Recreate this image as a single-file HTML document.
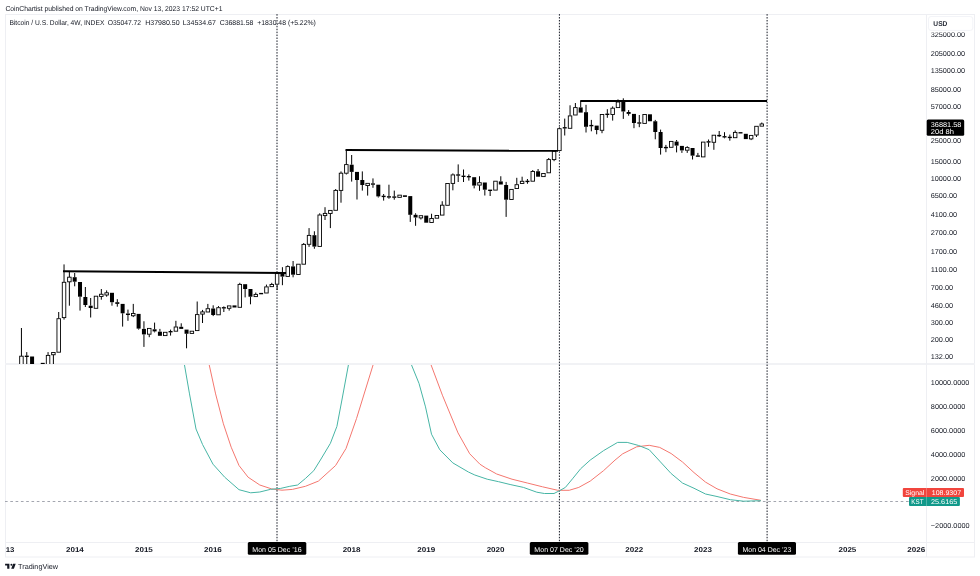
<!DOCTYPE html>
<html><head><meta charset="utf-8"><style>
html,body{margin:0;padding:0;background:#fff;width:980px;height:576px;overflow:hidden}
svg{display:block;font-family:"Liberation Sans", sans-serif;will-change:transform;text-rendering:geometricPrecision}
</style></head><body>
<svg width="980" height="576" viewBox="0 0 980 576">
<rect x="5.5" y="14.5" width="969" height="542.5" fill="none" stroke="#eeeff3" stroke-width="1"/>
<line x1="5" y1="364" x2="975" y2="364" stroke="#f1f2f5" stroke-width="2"/>
<line x1="926.5" y1="14" x2="926.5" y2="557" stroke="#eeeff3"/>
<line x1="5" y1="542.5" x2="975" y2="542.5" stroke="#eeeff3"/>
<text x="5.40" y="11.00" font-size="7.1" font-weight="normal" fill="#131722" textLength="217.05" lengthAdjust="spacingAndGlyphs">CoinChartist published on TradingView.com, Nov 13, 2023 17:52 UTC+1</text>
<text x="9.45" y="25.10" font-size="7.1" font-weight="normal" fill="#131722" textLength="94.90" lengthAdjust="spacingAndGlyphs">Bitcoin / U.S. Dollar, 4W, INDEX</text>
<text x="107.65" y="25.10" font-size="7.1" font-weight="normal" fill="#131722" textLength="33.40" lengthAdjust="spacingAndGlyphs">O35047.72</text>
<text x="145.15" y="25.10" font-size="7.1" font-weight="normal" fill="#131722" textLength="34.50" lengthAdjust="spacingAndGlyphs">H37980.50</text>
<text x="182.65" y="25.10" font-size="7.1" font-weight="normal" fill="#131722" textLength="33.30" lengthAdjust="spacingAndGlyphs">L34534.67</text>
<text x="219.65" y="25.10" font-size="7.1" font-weight="normal" fill="#131722" textLength="33.80" lengthAdjust="spacingAndGlyphs">C36881.58</text>
<text x="257.25" y="25.10" font-size="7.1" font-weight="normal" fill="#131722" textLength="58.60" lengthAdjust="spacingAndGlyphs">+1830.48 (+5.22%)</text>
<text x="930.65" y="36.85" font-size="7.1" font-weight="normal" fill="#131722" textLength="34.50" lengthAdjust="spacingAndGlyphs">325000.00</text>
<text x="930.65" y="55.65" font-size="7.1" font-weight="normal" fill="#131722" textLength="34.50" lengthAdjust="spacingAndGlyphs">205000.00</text>
<text x="930.65" y="73.05" font-size="7.1" font-weight="normal" fill="#131722" textLength="34.50" lengthAdjust="spacingAndGlyphs">135000.00</text>
<text x="930.65" y="91.85" font-size="7.1" font-weight="normal" fill="#131722" textLength="30.50" lengthAdjust="spacingAndGlyphs">85000.00</text>
<text x="930.65" y="108.65" font-size="7.1" font-weight="normal" fill="#131722" textLength="30.50" lengthAdjust="spacingAndGlyphs">57000.00</text>
<text x="930.65" y="142.75" font-size="7.1" font-weight="normal" fill="#131722" textLength="30.50" lengthAdjust="spacingAndGlyphs">25000.00</text>
<text x="930.65" y="163.85" font-size="7.1" font-weight="normal" fill="#131722" textLength="30.50" lengthAdjust="spacingAndGlyphs">15000.00</text>
<text x="930.65" y="180.95" font-size="7.1" font-weight="normal" fill="#131722" textLength="30.50" lengthAdjust="spacingAndGlyphs">10000.00</text>
<text x="930.65" y="198.45" font-size="7.1" font-weight="normal" fill="#131722" textLength="26.50" lengthAdjust="spacingAndGlyphs">6500.00</text>
<text x="930.65" y="217.45" font-size="7.1" font-weight="normal" fill="#131722" textLength="26.50" lengthAdjust="spacingAndGlyphs">4100.00</text>
<text x="930.65" y="234.55" font-size="7.1" font-weight="normal" fill="#131722" textLength="26.50" lengthAdjust="spacingAndGlyphs">2700.00</text>
<text x="930.65" y="253.85" font-size="7.1" font-weight="normal" fill="#131722" textLength="26.50" lengthAdjust="spacingAndGlyphs">1700.00</text>
<text x="930.65" y="271.75" font-size="7.1" font-weight="normal" fill="#131722" textLength="26.50" lengthAdjust="spacingAndGlyphs">1100.00</text>
<text x="930.65" y="290.45" font-size="7.1" font-weight="normal" fill="#131722" textLength="22.50" lengthAdjust="spacingAndGlyphs">700.00</text>
<text x="930.65" y="308.05" font-size="7.1" font-weight="normal" fill="#131722" textLength="22.50" lengthAdjust="spacingAndGlyphs">460.00</text>
<text x="930.65" y="325.25" font-size="7.1" font-weight="normal" fill="#131722" textLength="22.50" lengthAdjust="spacingAndGlyphs">300.00</text>
<text x="930.65" y="342.05" font-size="7.1" font-weight="normal" fill="#131722" textLength="22.50" lengthAdjust="spacingAndGlyphs">200.00</text>
<text x="930.65" y="358.95" font-size="7.1" font-weight="normal" fill="#131722" textLength="22.50" lengthAdjust="spacingAndGlyphs">132.00</text>
<text x="930.85" y="385.25" font-size="7.1" font-weight="normal" fill="#131722" textLength="38.50" lengthAdjust="spacingAndGlyphs">10000.0000</text>
<text x="930.85" y="409.15" font-size="7.1" font-weight="normal" fill="#131722" textLength="34.50" lengthAdjust="spacingAndGlyphs">8000.0000</text>
<text x="930.85" y="433.05" font-size="7.1" font-weight="normal" fill="#131722" textLength="34.50" lengthAdjust="spacingAndGlyphs">6000.0000</text>
<text x="930.85" y="456.85" font-size="7.1" font-weight="normal" fill="#131722" textLength="34.50" lengthAdjust="spacingAndGlyphs">4000.0000</text>
<text x="930.85" y="480.65" font-size="7.1" font-weight="normal" fill="#131722" textLength="34.50" lengthAdjust="spacingAndGlyphs">2000.0000</text>
<text x="930.85" y="528.15" font-size="7.1" font-weight="normal" fill="#131722" textLength="38.70" lengthAdjust="spacingAndGlyphs">−2000.0000</text>
<rect x="927" y="15" width="47" height="17.4" fill="#fff"/>
<rect x="928.5" y="16.5" width="44.3" height="13.9" rx="2.5" fill="#fff" stroke="#f3f4f8"/>
<text x="933.35" y="25.80" font-size="7.1" font-weight="bold" fill="#2a2e39" textLength="14.00" lengthAdjust="spacingAndGlyphs">USD</text>
<rect x="926.7" y="119.4" width="37.5" height="16.4" rx="1.5" fill="#000"/>
<text x="930.75" y="127.30" font-size="7.1" font-weight="normal" fill="#fff" textLength="30.60" lengthAdjust="spacingAndGlyphs">36881.58</text>
<text x="930.75" y="134.40" font-size="7.1" font-weight="normal" fill="#fff" textLength="23.10" lengthAdjust="spacingAndGlyphs">20d 8h</text>
<line x1="277.0" y1="14.13" x2="277.0" y2="542" stroke="#131722" stroke-width="1" stroke-dasharray="1.5,1.42"/>
<line x1="559.4" y1="14.13" x2="559.4" y2="542" stroke="#131722" stroke-width="1" stroke-dasharray="1.5,1.42"/>
<line x1="767.1" y1="14.13" x2="767.1" y2="542" stroke="#131722" stroke-width="1" stroke-dasharray="1.5,1.42"/>
<text x="5.75" y="551.90" font-size="7.1" font-weight="bold" fill="#131722" textLength="8.70" lengthAdjust="spacingAndGlyphs">13</text>
<text x="65.95" y="551.90" font-size="7.1" font-weight="bold" fill="#131722" textLength="17.90" lengthAdjust="spacingAndGlyphs">2014</text>
<text x="134.95" y="551.90" font-size="7.1" font-weight="bold" fill="#131722" textLength="17.90" lengthAdjust="spacingAndGlyphs">2015</text>
<text x="203.95" y="551.90" font-size="7.1" font-weight="bold" fill="#131722" textLength="17.90" lengthAdjust="spacingAndGlyphs">2016</text>
<text x="342.65" y="551.90" font-size="7.1" font-weight="bold" fill="#131722" textLength="17.90" lengthAdjust="spacingAndGlyphs">2018</text>
<text x="417.25" y="551.90" font-size="7.1" font-weight="bold" fill="#131722" textLength="17.90" lengthAdjust="spacingAndGlyphs">2019</text>
<text x="486.65" y="551.90" font-size="7.1" font-weight="bold" fill="#131722" textLength="17.90" lengthAdjust="spacingAndGlyphs">2020</text>
<text x="625.35" y="551.90" font-size="7.1" font-weight="bold" fill="#131722" textLength="17.90" lengthAdjust="spacingAndGlyphs">2022</text>
<text x="694.05" y="551.90" font-size="7.1" font-weight="bold" fill="#131722" textLength="17.90" lengthAdjust="spacingAndGlyphs">2023</text>
<text x="838.45" y="551.90" font-size="7.1" font-weight="bold" fill="#131722" textLength="17.90" lengthAdjust="spacingAndGlyphs">2025</text>
<text x="907.25" y="551.90" font-size="7.1" font-weight="bold" fill="#131722" textLength="17.90" lengthAdjust="spacingAndGlyphs">2026</text>
<rect x="247.8" y="542" width="58.50" height="12.7" rx="1.5" fill="#000"/>
<text x="252.35" y="551.90" font-size="7.1" font-weight="normal" fill="#fff" textLength="49.30" lengthAdjust="spacingAndGlyphs">Mon 05 Dec ’16</text>
<rect x="529.8" y="542" width="58.60" height="12.7" rx="1.5" fill="#000"/>
<text x="534.35" y="551.90" font-size="7.1" font-weight="normal" fill="#fff" textLength="49.40" lengthAdjust="spacingAndGlyphs">Mon 07 Dec ’20</text>
<rect x="737.9" y="542" width="58.10" height="12.7" rx="1.5" fill="#000"/>
<text x="742.45" y="551.90" font-size="7.1" font-weight="normal" fill="#fff" textLength="48.90" lengthAdjust="spacingAndGlyphs">Mon 04 Dec ’23</text>
<path d="M5.1 563.75 H9.4 V568.75 H7.2 V565.6 H5.1 Z M13.1 563.75 H15.7 L13.9 568.75 H11.2 Z" fill="#131722"/><circle cx="11.4" cy="564.7" r="0.95" fill="#131722"/>
<text x="18.05" y="569.00" font-size="7.3" font-weight="normal" fill="#131722" textLength="40.00" lengthAdjust="spacingAndGlyphs">TradingView</text>
<line x1="5" y1="501.5" x2="926" y2="501.5" stroke="#a3a6af" stroke-dasharray="2.65,2.65" stroke-width="1"/>
<defs><clipPath id="pp"><rect x="6" y="15" width="920" height="349"/></clipPath><clipPath id="ip"><rect x="6" y="365" width="920" height="177"/></clipPath></defs>
<g clip-path="url(#pp)">
<line x1="21.43" y1="328.00" x2="21.43" y2="356.00" stroke="#000" stroke-width="1"/>
<rect x="19.68" y="356.20" width="3.5" height="9.60" fill="#fff" stroke="#000" stroke-width="0.9"/>
<line x1="26.76" y1="352.10" x2="26.76" y2="355.80" stroke="#000" stroke-width="1"/>
<line x1="26.76" y1="356.80" x2="26.76" y2="366.00" stroke="#000" stroke-width="1"/>
<rect x="24.76" y="355.60" width="4" height="1.40" fill="#000"/>
<rect x="30.08" y="356.50" width="4" height="9.50" fill="#000"/>
<rect x="40.74" y="362.85" width="4" height="1.40" fill="#000"/>
<line x1="48.06" y1="352.10" x2="48.06" y2="355.20" stroke="#000" stroke-width="1"/>
<rect x="46.31" y="355.40" width="3.5" height="10.40" fill="#fff" stroke="#000" stroke-width="0.9"/>
<line x1="53.39" y1="354.70" x2="53.39" y2="366.00" stroke="#000" stroke-width="1"/>
<rect x="51.64" y="352.55" width="3.5" height="2.20" fill="#fff" stroke="#000" stroke-width="0.9"/>
<line x1="58.71" y1="312.00" x2="58.71" y2="318.50" stroke="#000" stroke-width="1"/>
<rect x="56.96" y="318.70" width="3.5" height="33.50" fill="#fff" stroke="#000" stroke-width="0.9"/>
<line x1="64.04" y1="264.40" x2="64.04" y2="282.10" stroke="#000" stroke-width="1"/>
<line x1="64.04" y1="317.80" x2="64.04" y2="319.60" stroke="#000" stroke-width="1"/>
<rect x="62.29" y="282.30" width="3.5" height="35.30" fill="#fff" stroke="#000" stroke-width="0.9"/>
<line x1="69.37" y1="271.70" x2="69.37" y2="277.00" stroke="#000" stroke-width="1"/>
<line x1="69.37" y1="282.00" x2="69.37" y2="305.70" stroke="#000" stroke-width="1"/>
<rect x="67.62" y="277.20" width="3.5" height="4.60" fill="#fff" stroke="#000" stroke-width="0.9"/>
<line x1="74.69" y1="273.00" x2="74.69" y2="277.20" stroke="#000" stroke-width="1"/>
<line x1="74.69" y1="281.70" x2="74.69" y2="286.30" stroke="#000" stroke-width="1"/>
<rect x="72.69" y="277.20" width="4" height="4.50" fill="#000"/>
<line x1="80.02" y1="296.70" x2="80.02" y2="310.60" stroke="#000" stroke-width="1"/>
<rect x="78.02" y="282.00" width="4" height="14.70" fill="#000"/>
<line x1="85.35" y1="287.00" x2="85.35" y2="297.00" stroke="#000" stroke-width="1"/>
<line x1="85.35" y1="305.00" x2="85.35" y2="307.00" stroke="#000" stroke-width="1"/>
<rect x="83.35" y="297.00" width="4" height="8.00" fill="#000"/>
<line x1="90.67" y1="298.00" x2="90.67" y2="305.70" stroke="#000" stroke-width="1"/>
<line x1="90.67" y1="308.00" x2="90.67" y2="317.50" stroke="#000" stroke-width="1"/>
<rect x="88.67" y="305.70" width="4" height="2.30" fill="#000"/>
<rect x="94.25" y="296.20" width="3.5" height="12.10" fill="#fff" stroke="#000" stroke-width="0.9"/>
<line x1="101.33" y1="289.00" x2="101.33" y2="294.30" stroke="#000" stroke-width="1"/>
<line x1="101.33" y1="296.40" x2="101.33" y2="299.70" stroke="#000" stroke-width="1"/>
<rect x="99.58" y="294.25" width="3.5" height="2.20" fill="#fff" stroke="#000" stroke-width="0.9"/>
<line x1="106.65" y1="290.40" x2="106.65" y2="293.20" stroke="#000" stroke-width="1"/>
<line x1="106.65" y1="294.60" x2="106.65" y2="296.70" stroke="#000" stroke-width="1"/>
<rect x="104.90" y="292.80" width="3.5" height="2.20" fill="#fff" stroke="#000" stroke-width="0.9"/>
<line x1="111.98" y1="302.20" x2="111.98" y2="305.70" stroke="#000" stroke-width="1"/>
<rect x="109.98" y="292.80" width="4" height="9.40" fill="#000"/>
<line x1="117.31" y1="299.20" x2="117.31" y2="302.20" stroke="#000" stroke-width="1"/>
<line x1="117.31" y1="303.90" x2="117.31" y2="306.70" stroke="#000" stroke-width="1"/>
<rect x="115.31" y="302.20" width="4" height="1.70" fill="#000"/>
<line x1="122.63" y1="313.30" x2="122.63" y2="326.60" stroke="#000" stroke-width="1"/>
<rect x="120.63" y="303.90" width="4" height="9.40" fill="#000"/>
<line x1="127.96" y1="309.60" x2="127.96" y2="313.50" stroke="#000" stroke-width="1"/>
<line x1="127.96" y1="315.00" x2="127.96" y2="320.80" stroke="#000" stroke-width="1"/>
<rect x="125.96" y="313.50" width="4" height="1.50" fill="#000"/>
<line x1="133.28" y1="303.90" x2="133.28" y2="313.60" stroke="#000" stroke-width="1"/>
<line x1="133.28" y1="315.70" x2="133.28" y2="317.10" stroke="#000" stroke-width="1"/>
<rect x="131.53" y="313.55" width="3.5" height="2.20" fill="#fff" stroke="#000" stroke-width="0.9"/>
<line x1="138.61" y1="328.60" x2="138.61" y2="329.60" stroke="#000" stroke-width="1"/>
<rect x="136.61" y="313.90" width="4" height="14.70" fill="#000"/>
<line x1="143.94" y1="321.25" x2="143.94" y2="328.90" stroke="#000" stroke-width="1"/>
<line x1="143.94" y1="334.40" x2="143.94" y2="346.90" stroke="#000" stroke-width="1"/>
<rect x="141.94" y="328.90" width="4" height="5.50" fill="#000"/>
<line x1="149.26" y1="334.40" x2="149.26" y2="337.20" stroke="#000" stroke-width="1"/>
<rect x="147.51" y="328.40" width="3.5" height="5.80" fill="#fff" stroke="#000" stroke-width="0.9"/>
<line x1="154.59" y1="322.60" x2="154.59" y2="329.30" stroke="#000" stroke-width="1"/>
<line x1="154.59" y1="331.40" x2="154.59" y2="332.40" stroke="#000" stroke-width="1"/>
<rect x="152.59" y="329.30" width="4" height="2.10" fill="#000"/>
<line x1="159.92" y1="328.90" x2="159.92" y2="331.70" stroke="#000" stroke-width="1"/>
<rect x="157.92" y="331.70" width="4" height="4.10" fill="#000"/>
<rect x="163.49" y="332.30" width="3.5" height="3.30" fill="#fff" stroke="#000" stroke-width="0.9"/>
<line x1="170.57" y1="329.60" x2="170.57" y2="331.20" stroke="#000" stroke-width="1"/>
<line x1="170.57" y1="332.20" x2="170.57" y2="335.60" stroke="#000" stroke-width="1"/>
<rect x="168.57" y="331.00" width="4" height="1.40" fill="#000"/>
<line x1="175.90" y1="320.80" x2="175.90" y2="326.80" stroke="#000" stroke-width="1"/>
<rect x="174.15" y="327.00" width="3.5" height="4.20" fill="#fff" stroke="#000" stroke-width="0.9"/>
<line x1="181.22" y1="323.30" x2="181.22" y2="326.80" stroke="#000" stroke-width="1"/>
<rect x="179.22" y="326.80" width="4" height="2.10" fill="#000"/>
<line x1="186.55" y1="333.75" x2="186.55" y2="348.30" stroke="#000" stroke-width="1"/>
<rect x="184.55" y="329.60" width="4" height="4.15" fill="#000"/>
<rect x="190.12" y="331.20" width="3.5" height="2.20" fill="#fff" stroke="#000" stroke-width="0.9"/>
<line x1="197.20" y1="301.50" x2="197.20" y2="314.40" stroke="#000" stroke-width="1"/>
<rect x="195.45" y="314.60" width="3.5" height="16.00" fill="#fff" stroke="#000" stroke-width="0.9"/>
<line x1="202.53" y1="309.90" x2="202.53" y2="312.00" stroke="#000" stroke-width="1"/>
<line x1="202.53" y1="314.00" x2="202.53" y2="323.00" stroke="#000" stroke-width="1"/>
<rect x="200.78" y="311.90" width="3.5" height="2.20" fill="#fff" stroke="#000" stroke-width="0.9"/>
<line x1="207.85" y1="303.90" x2="207.85" y2="308.50" stroke="#000" stroke-width="1"/>
<rect x="206.10" y="308.70" width="3.5" height="3.30" fill="#fff" stroke="#000" stroke-width="0.9"/>
<line x1="213.18" y1="305.30" x2="213.18" y2="308.50" stroke="#000" stroke-width="1"/>
<line x1="213.18" y1="315.00" x2="213.18" y2="316.10" stroke="#000" stroke-width="1"/>
<rect x="211.18" y="308.50" width="4" height="6.50" fill="#000"/>
<line x1="218.51" y1="306.10" x2="218.51" y2="307.50" stroke="#000" stroke-width="1"/>
<rect x="216.76" y="307.70" width="3.5" height="7.10" fill="#fff" stroke="#000" stroke-width="0.9"/>
<line x1="223.83" y1="306.40" x2="223.83" y2="307.30" stroke="#000" stroke-width="1"/>
<line x1="223.83" y1="308.30" x2="223.83" y2="312.00" stroke="#000" stroke-width="1"/>
<rect x="221.83" y="307.10" width="4" height="1.40" fill="#000"/>
<line x1="229.16" y1="308.50" x2="229.16" y2="310.60" stroke="#000" stroke-width="1"/>
<rect x="227.41" y="305.90" width="3.5" height="2.40" fill="#fff" stroke="#000" stroke-width="0.9"/>
<rect x="232.49" y="305.40" width="4" height="2.10" fill="#000"/>
<line x1="239.81" y1="282.80" x2="239.81" y2="284.20" stroke="#000" stroke-width="1"/>
<rect x="238.06" y="284.40" width="3.5" height="22.90" fill="#fff" stroke="#000" stroke-width="0.9"/>
<line x1="245.14" y1="289.00" x2="245.14" y2="297.40" stroke="#000" stroke-width="1"/>
<rect x="243.14" y="284.20" width="4" height="4.80" fill="#000"/>
<line x1="250.47" y1="296.70" x2="250.47" y2="304.30" stroke="#000" stroke-width="1"/>
<rect x="248.47" y="289.00" width="4" height="7.70" fill="#000"/>
<line x1="255.79" y1="292.50" x2="255.79" y2="294.30" stroke="#000" stroke-width="1"/>
<rect x="254.04" y="294.40" width="3.5" height="2.20" fill="#fff" stroke="#000" stroke-width="0.9"/>
<rect x="259.12" y="292.90" width="4" height="1.40" fill="#000"/>
<line x1="266.44" y1="284.60" x2="266.44" y2="286.70" stroke="#000" stroke-width="1"/>
<rect x="264.69" y="286.90" width="3.5" height="6.10" fill="#fff" stroke="#000" stroke-width="0.9"/>
<line x1="271.77" y1="282.80" x2="271.77" y2="284.40" stroke="#000" stroke-width="1"/>
<rect x="270.02" y="284.45" width="3.5" height="2.20" fill="#fff" stroke="#000" stroke-width="0.9"/>
<line x1="277.10" y1="284.40" x2="277.10" y2="290.00" stroke="#000" stroke-width="1"/>
<rect x="275.35" y="273.60" width="3.5" height="10.60" fill="#fff" stroke="#000" stroke-width="0.9"/>
<line x1="282.42" y1="267.20" x2="282.42" y2="272.70" stroke="#000" stroke-width="1"/>
<line x1="282.42" y1="276.60" x2="282.42" y2="285.20" stroke="#000" stroke-width="1"/>
<rect x="280.42" y="272.70" width="4" height="3.90" fill="#000"/>
<line x1="287.75" y1="265.30" x2="287.75" y2="266.40" stroke="#000" stroke-width="1"/>
<rect x="286.00" y="266.60" width="3.5" height="9.80" fill="#fff" stroke="#000" stroke-width="0.9"/>
<line x1="293.08" y1="261.00" x2="293.08" y2="266.40" stroke="#000" stroke-width="1"/>
<line x1="293.08" y1="274.70" x2="293.08" y2="277.30" stroke="#000" stroke-width="1"/>
<rect x="291.08" y="266.40" width="4" height="8.30" fill="#000"/>
<rect x="296.65" y="264.20" width="3.5" height="10.30" fill="#fff" stroke="#000" stroke-width="0.9"/>
<line x1="303.73" y1="243.00" x2="303.73" y2="244.20" stroke="#000" stroke-width="1"/>
<rect x="301.98" y="244.40" width="3.5" height="19.80" fill="#fff" stroke="#000" stroke-width="0.9"/>
<line x1="309.06" y1="228.10" x2="309.06" y2="235.20" stroke="#000" stroke-width="1"/>
<line x1="309.06" y1="244.50" x2="309.06" y2="246.90" stroke="#000" stroke-width="1"/>
<rect x="307.31" y="235.40" width="3.5" height="8.90" fill="#fff" stroke="#000" stroke-width="0.9"/>
<line x1="314.38" y1="231.25" x2="314.38" y2="235.20" stroke="#000" stroke-width="1"/>
<line x1="314.38" y1="246.60" x2="314.38" y2="248.75" stroke="#000" stroke-width="1"/>
<rect x="312.38" y="235.20" width="4" height="11.40" fill="#000"/>
<line x1="319.71" y1="213.30" x2="319.71" y2="214.80" stroke="#000" stroke-width="1"/>
<rect x="317.96" y="215.00" width="3.5" height="31.40" fill="#fff" stroke="#000" stroke-width="0.9"/>
<line x1="325.03" y1="207.20" x2="325.03" y2="213.40" stroke="#000" stroke-width="1"/>
<line x1="325.03" y1="215.60" x2="325.03" y2="220.00" stroke="#000" stroke-width="1"/>
<rect x="323.28" y="213.40" width="3.5" height="2.20" fill="#fff" stroke="#000" stroke-width="0.9"/>
<line x1="330.36" y1="213.70" x2="330.36" y2="228.10" stroke="#000" stroke-width="1"/>
<rect x="328.61" y="210.40" width="3.5" height="3.10" fill="#fff" stroke="#000" stroke-width="0.9"/>
<line x1="335.69" y1="189.00" x2="335.69" y2="190.20" stroke="#000" stroke-width="1"/>
<rect x="333.94" y="190.40" width="3.5" height="19.90" fill="#fff" stroke="#000" stroke-width="0.9"/>
<line x1="341.01" y1="171.40" x2="341.01" y2="173.00" stroke="#000" stroke-width="1"/>
<line x1="341.01" y1="190.60" x2="341.01" y2="202.70" stroke="#000" stroke-width="1"/>
<rect x="339.26" y="173.20" width="3.5" height="17.20" fill="#fff" stroke="#000" stroke-width="0.9"/>
<line x1="346.34" y1="150.00" x2="346.34" y2="164.40" stroke="#000" stroke-width="1"/>
<line x1="346.34" y1="173.40" x2="346.34" y2="174.50" stroke="#000" stroke-width="1"/>
<rect x="344.59" y="164.60" width="3.5" height="8.60" fill="#fff" stroke="#000" stroke-width="0.9"/>
<line x1="351.67" y1="155.00" x2="351.67" y2="164.70" stroke="#000" stroke-width="1"/>
<line x1="351.67" y1="171.90" x2="351.67" y2="181.60" stroke="#000" stroke-width="1"/>
<rect x="349.67" y="164.70" width="4" height="7.20" fill="#000"/>
<line x1="356.99" y1="180.00" x2="356.99" y2="199.50" stroke="#000" stroke-width="1"/>
<rect x="354.99" y="171.90" width="4" height="8.10" fill="#000"/>
<line x1="362.32" y1="171.40" x2="362.32" y2="180.00" stroke="#000" stroke-width="1"/>
<line x1="362.32" y1="185.00" x2="362.32" y2="190.60" stroke="#000" stroke-width="1"/>
<rect x="360.32" y="180.00" width="4" height="5.00" fill="#000"/>
<line x1="367.65" y1="185.50" x2="367.65" y2="195.60" stroke="#000" stroke-width="1"/>
<rect x="365.90" y="183.35" width="3.5" height="2.20" fill="#fff" stroke="#000" stroke-width="0.9"/>
<line x1="372.97" y1="178.40" x2="372.97" y2="183.40" stroke="#000" stroke-width="1"/>
<line x1="372.97" y1="184.70" x2="372.97" y2="187.80" stroke="#000" stroke-width="1"/>
<rect x="370.97" y="183.35" width="4" height="1.40" fill="#000"/>
<line x1="378.30" y1="196.40" x2="378.30" y2="197.50" stroke="#000" stroke-width="1"/>
<rect x="376.30" y="184.70" width="4" height="11.70" fill="#000"/>
<line x1="383.63" y1="194.00" x2="383.63" y2="195.90" stroke="#000" stroke-width="1"/>
<line x1="383.63" y1="196.90" x2="383.63" y2="200.60" stroke="#000" stroke-width="1"/>
<rect x="381.63" y="195.70" width="4" height="1.40" fill="#000"/>
<line x1="388.95" y1="184.70" x2="388.95" y2="196.40" stroke="#000" stroke-width="1"/>
<line x1="388.95" y1="197.40" x2="388.95" y2="198.75" stroke="#000" stroke-width="1"/>
<rect x="386.95" y="196.20" width="4" height="1.40" fill="#000"/>
<line x1="394.28" y1="190.60" x2="394.28" y2="196.60" stroke="#000" stroke-width="1"/>
<line x1="394.28" y1="197.60" x2="394.28" y2="199.70" stroke="#000" stroke-width="1"/>
<rect x="392.28" y="196.40" width="4" height="1.40" fill="#000"/>
<rect x="397.85" y="195.15" width="3.5" height="2.20" fill="#fff" stroke="#000" stroke-width="0.9"/>
<rect x="402.93" y="195.30" width="4" height="1.60" fill="#000"/>
<line x1="410.26" y1="214.80" x2="410.26" y2="221.90" stroke="#000" stroke-width="1"/>
<rect x="408.26" y="196.10" width="4" height="18.70" fill="#000"/>
<line x1="415.58" y1="213.30" x2="415.58" y2="214.80" stroke="#000" stroke-width="1"/>
<line x1="415.58" y1="217.50" x2="415.58" y2="225.80" stroke="#000" stroke-width="1"/>
<rect x="413.58" y="214.80" width="4" height="2.70" fill="#000"/>
<line x1="420.91" y1="218.00" x2="420.91" y2="219.50" stroke="#000" stroke-width="1"/>
<rect x="419.16" y="215.70" width="3.5" height="2.20" fill="#fff" stroke="#000" stroke-width="0.9"/>
<rect x="424.24" y="215.60" width="4" height="7.10" fill="#000"/>
<line x1="431.56" y1="213.75" x2="431.56" y2="218.30" stroke="#000" stroke-width="1"/>
<rect x="429.81" y="218.50" width="3.5" height="4.00" fill="#fff" stroke="#000" stroke-width="0.9"/>
<rect x="435.14" y="215.50" width="3.5" height="2.70" fill="#fff" stroke="#000" stroke-width="0.9"/>
<line x1="442.22" y1="201.25" x2="442.22" y2="205.00" stroke="#000" stroke-width="1"/>
<rect x="440.47" y="205.20" width="3.5" height="9.90" fill="#fff" stroke="#000" stroke-width="0.9"/>
<rect x="445.79" y="183.50" width="3.5" height="21.80" fill="#fff" stroke="#000" stroke-width="0.9"/>
<line x1="452.87" y1="173.40" x2="452.87" y2="174.70" stroke="#000" stroke-width="1"/>
<line x1="452.87" y1="183.60" x2="452.87" y2="190.30" stroke="#000" stroke-width="1"/>
<rect x="451.12" y="174.90" width="3.5" height="8.50" fill="#fff" stroke="#000" stroke-width="0.9"/>
<line x1="458.19" y1="164.40" x2="458.19" y2="174.50" stroke="#000" stroke-width="1"/>
<line x1="458.19" y1="175.50" x2="458.19" y2="182.00" stroke="#000" stroke-width="1"/>
<rect x="456.19" y="174.30" width="4" height="1.40" fill="#000"/>
<line x1="463.52" y1="169.50" x2="463.52" y2="175.80" stroke="#000" stroke-width="1"/>
<line x1="463.52" y1="176.80" x2="463.52" y2="182.00" stroke="#000" stroke-width="1"/>
<rect x="461.52" y="175.60" width="4" height="1.40" fill="#000"/>
<line x1="468.85" y1="174.40" x2="468.85" y2="176.20" stroke="#000" stroke-width="1"/>
<line x1="468.85" y1="177.20" x2="468.85" y2="180.60" stroke="#000" stroke-width="1"/>
<rect x="466.85" y="176.00" width="4" height="1.40" fill="#000"/>
<line x1="474.17" y1="185.60" x2="474.17" y2="188.40" stroke="#000" stroke-width="1"/>
<rect x="472.17" y="177.20" width="4" height="8.40" fill="#000"/>
<line x1="479.50" y1="176.25" x2="479.50" y2="182.50" stroke="#000" stroke-width="1"/>
<line x1="479.50" y1="185.30" x2="479.50" y2="190.80" stroke="#000" stroke-width="1"/>
<rect x="477.75" y="182.70" width="3.5" height="2.40" fill="#fff" stroke="#000" stroke-width="0.9"/>
<line x1="484.83" y1="189.70" x2="484.83" y2="195.50" stroke="#000" stroke-width="1"/>
<rect x="482.83" y="182.50" width="4" height="7.20" fill="#000"/>
<line x1="490.15" y1="190.80" x2="490.15" y2="196.00" stroke="#000" stroke-width="1"/>
<rect x="488.15" y="189.60" width="4" height="1.40" fill="#000"/>
<rect x="493.73" y="181.20" width="3.5" height="8.90" fill="#fff" stroke="#000" stroke-width="0.9"/>
<line x1="500.81" y1="176.25" x2="500.81" y2="181.40" stroke="#000" stroke-width="1"/>
<rect x="498.81" y="181.40" width="4" height="3.10" fill="#000"/>
<line x1="506.13" y1="181.90" x2="506.13" y2="185.00" stroke="#000" stroke-width="1"/>
<line x1="506.13" y1="199.70" x2="506.13" y2="216.90" stroke="#000" stroke-width="1"/>
<rect x="504.13" y="185.00" width="4" height="14.70" fill="#000"/>
<rect x="509.71" y="189.40" width="3.5" height="10.10" fill="#fff" stroke="#000" stroke-width="0.9"/>
<line x1="516.79" y1="177.80" x2="516.79" y2="184.50" stroke="#000" stroke-width="1"/>
<rect x="515.04" y="184.70" width="3.5" height="3.85" fill="#fff" stroke="#000" stroke-width="0.9"/>
<line x1="522.11" y1="176.70" x2="522.11" y2="181.40" stroke="#000" stroke-width="1"/>
<rect x="520.36" y="181.30" width="3.5" height="2.20" fill="#fff" stroke="#000" stroke-width="0.9"/>
<line x1="527.44" y1="179.00" x2="527.44" y2="180.90" stroke="#000" stroke-width="1"/>
<line x1="527.44" y1="181.90" x2="527.44" y2="183.75" stroke="#000" stroke-width="1"/>
<rect x="525.44" y="180.70" width="4" height="1.40" fill="#000"/>
<line x1="532.76" y1="170.00" x2="532.76" y2="171.25" stroke="#000" stroke-width="1"/>
<rect x="531.01" y="171.45" width="3.5" height="9.75" fill="#fff" stroke="#000" stroke-width="0.9"/>
<line x1="538.09" y1="169.00" x2="538.09" y2="171.25" stroke="#000" stroke-width="1"/>
<rect x="536.09" y="171.25" width="4" height="5.45" fill="#000"/>
<rect x="541.67" y="173.50" width="3.5" height="3.10" fill="#fff" stroke="#000" stroke-width="0.9"/>
<line x1="548.74" y1="158.00" x2="548.74" y2="159.40" stroke="#000" stroke-width="1"/>
<rect x="546.99" y="159.60" width="3.5" height="13.20" fill="#fff" stroke="#000" stroke-width="0.9"/>
<line x1="554.07" y1="159.80" x2="554.07" y2="161.20" stroke="#000" stroke-width="1"/>
<rect x="552.32" y="151.30" width="3.5" height="8.30" fill="#fff" stroke="#000" stroke-width="0.9"/>
<line x1="559.40" y1="127.30" x2="559.40" y2="128.50" stroke="#000" stroke-width="1"/>
<rect x="557.65" y="128.70" width="3.5" height="21.90" fill="#fff" stroke="#000" stroke-width="0.9"/>
<line x1="564.72" y1="118.60" x2="564.72" y2="127.30" stroke="#000" stroke-width="1"/>
<line x1="564.72" y1="128.30" x2="564.72" y2="135.50" stroke="#000" stroke-width="1"/>
<rect x="562.72" y="127.10" width="4" height="1.40" fill="#000"/>
<line x1="570.05" y1="105.30" x2="570.05" y2="115.70" stroke="#000" stroke-width="1"/>
<rect x="568.30" y="115.90" width="3.5" height="12.40" fill="#fff" stroke="#000" stroke-width="0.9"/>
<line x1="575.38" y1="103.00" x2="575.38" y2="107.40" stroke="#000" stroke-width="1"/>
<rect x="573.63" y="107.60" width="3.5" height="7.40" fill="#fff" stroke="#000" stroke-width="0.9"/>
<line x1="580.70" y1="100.80" x2="580.70" y2="107.40" stroke="#000" stroke-width="1"/>
<rect x="578.70" y="107.40" width="4" height="5.20" fill="#000"/>
<line x1="586.03" y1="104.80" x2="586.03" y2="112.20" stroke="#000" stroke-width="1"/>
<line x1="586.03" y1="126.80" x2="586.03" y2="132.50" stroke="#000" stroke-width="1"/>
<rect x="584.03" y="112.20" width="4" height="14.60" fill="#000"/>
<line x1="591.35" y1="119.90" x2="591.35" y2="125.10" stroke="#000" stroke-width="1"/>
<line x1="591.35" y1="126.10" x2="591.35" y2="131.30" stroke="#000" stroke-width="1"/>
<rect x="589.35" y="124.90" width="4" height="1.40" fill="#000"/>
<line x1="596.68" y1="130.00" x2="596.68" y2="134.30" stroke="#000" stroke-width="1"/>
<rect x="594.68" y="125.60" width="4" height="4.40" fill="#000"/>
<line x1="602.01" y1="130.50" x2="602.01" y2="133.20" stroke="#000" stroke-width="1"/>
<rect x="600.26" y="114.50" width="3.5" height="15.80" fill="#fff" stroke="#000" stroke-width="0.9"/>
<line x1="607.33" y1="109.20" x2="607.33" y2="113.80" stroke="#000" stroke-width="1"/>
<line x1="607.33" y1="114.80" x2="607.33" y2="117.80" stroke="#000" stroke-width="1"/>
<rect x="605.33" y="113.60" width="4" height="1.40" fill="#000"/>
<line x1="612.66" y1="106.40" x2="612.66" y2="108.00" stroke="#000" stroke-width="1"/>
<line x1="612.66" y1="114.70" x2="612.66" y2="120.60" stroke="#000" stroke-width="1"/>
<rect x="610.91" y="108.20" width="3.5" height="6.30" fill="#fff" stroke="#000" stroke-width="0.9"/>
<line x1="617.99" y1="99.40" x2="617.99" y2="101.80" stroke="#000" stroke-width="1"/>
<rect x="616.24" y="102.00" width="3.5" height="5.60" fill="#fff" stroke="#000" stroke-width="0.9"/>
<line x1="623.31" y1="98.30" x2="623.31" y2="101.10" stroke="#000" stroke-width="1"/>
<line x1="623.31" y1="111.50" x2="623.31" y2="118.90" stroke="#000" stroke-width="1"/>
<rect x="621.31" y="101.10" width="4" height="10.40" fill="#000"/>
<line x1="628.64" y1="110.10" x2="628.64" y2="112.00" stroke="#000" stroke-width="1"/>
<line x1="628.64" y1="113.90" x2="628.64" y2="115.70" stroke="#000" stroke-width="1"/>
<rect x="626.64" y="112.00" width="4" height="1.90" fill="#000"/>
<line x1="633.97" y1="123.00" x2="633.97" y2="128.20" stroke="#000" stroke-width="1"/>
<rect x="631.97" y="113.90" width="4" height="9.10" fill="#000"/>
<line x1="639.29" y1="115.00" x2="639.29" y2="122.50" stroke="#000" stroke-width="1"/>
<line x1="639.29" y1="123.50" x2="639.29" y2="127.20" stroke="#000" stroke-width="1"/>
<rect x="637.29" y="122.30" width="4" height="1.40" fill="#000"/>
<rect x="642.87" y="114.50" width="3.5" height="8.90" fill="#fff" stroke="#000" stroke-width="0.9"/>
<rect x="647.95" y="114.30" width="4" height="6.95" fill="#000"/>
<line x1="655.27" y1="119.90" x2="655.27" y2="121.25" stroke="#000" stroke-width="1"/>
<line x1="655.27" y1="132.00" x2="655.27" y2="139.30" stroke="#000" stroke-width="1"/>
<rect x="653.27" y="121.25" width="4" height="10.75" fill="#000"/>
<line x1="660.60" y1="129.60" x2="660.60" y2="132.00" stroke="#000" stroke-width="1"/>
<line x1="660.60" y1="148.00" x2="660.60" y2="154.60" stroke="#000" stroke-width="1"/>
<rect x="658.60" y="132.00" width="4" height="16.00" fill="#000"/>
<line x1="665.92" y1="144.90" x2="665.92" y2="147.10" stroke="#000" stroke-width="1"/>
<line x1="665.92" y1="148.10" x2="665.92" y2="152.20" stroke="#000" stroke-width="1"/>
<rect x="663.92" y="146.90" width="4" height="1.40" fill="#000"/>
<rect x="669.50" y="141.40" width="3.5" height="5.90" fill="#fff" stroke="#000" stroke-width="0.9"/>
<line x1="676.58" y1="140.00" x2="676.58" y2="141.60" stroke="#000" stroke-width="1"/>
<line x1="676.58" y1="145.60" x2="676.58" y2="152.40" stroke="#000" stroke-width="1"/>
<rect x="674.58" y="141.60" width="4" height="4.00" fill="#000"/>
<line x1="681.90" y1="150.40" x2="681.90" y2="152.90" stroke="#000" stroke-width="1"/>
<rect x="679.90" y="145.90" width="4" height="4.50" fill="#000"/>
<line x1="687.23" y1="146.20" x2="687.23" y2="147.40" stroke="#000" stroke-width="1"/>
<line x1="687.23" y1="150.40" x2="687.23" y2="152.90" stroke="#000" stroke-width="1"/>
<rect x="685.48" y="147.60" width="3.5" height="2.60" fill="#fff" stroke="#000" stroke-width="0.9"/>
<line x1="692.56" y1="155.65" x2="692.56" y2="159.50" stroke="#000" stroke-width="1"/>
<rect x="690.56" y="148.00" width="4" height="7.65" fill="#000"/>
<line x1="697.88" y1="152.90" x2="697.88" y2="155.60" stroke="#000" stroke-width="1"/>
<rect x="695.88" y="155.40" width="4" height="1.40" fill="#000"/>
<rect x="701.46" y="142.10" width="3.5" height="14.80" fill="#fff" stroke="#000" stroke-width="0.9"/>
<line x1="708.54" y1="139.50" x2="708.54" y2="141.40" stroke="#000" stroke-width="1"/>
<line x1="708.54" y1="142.40" x2="708.54" y2="146.80" stroke="#000" stroke-width="1"/>
<rect x="706.54" y="141.20" width="4" height="1.40" fill="#000"/>
<line x1="713.86" y1="142.50" x2="713.86" y2="149.80" stroke="#000" stroke-width="1"/>
<rect x="712.11" y="135.20" width="3.5" height="7.10" fill="#fff" stroke="#000" stroke-width="0.9"/>
<line x1="719.19" y1="131.00" x2="719.19" y2="135.10" stroke="#000" stroke-width="1"/>
<line x1="719.19" y1="136.10" x2="719.19" y2="137.00" stroke="#000" stroke-width="1"/>
<rect x="717.19" y="134.90" width="4" height="1.40" fill="#000"/>
<line x1="724.51" y1="132.20" x2="724.51" y2="136.30" stroke="#000" stroke-width="1"/>
<line x1="724.51" y1="137.30" x2="724.51" y2="138.30" stroke="#000" stroke-width="1"/>
<rect x="722.51" y="136.10" width="4" height="1.40" fill="#000"/>
<line x1="729.84" y1="134.60" x2="729.84" y2="136.90" stroke="#000" stroke-width="1"/>
<line x1="729.84" y1="137.90" x2="729.84" y2="140.70" stroke="#000" stroke-width="1"/>
<rect x="727.84" y="136.70" width="4" height="1.40" fill="#000"/>
<line x1="735.17" y1="130.40" x2="735.17" y2="132.20" stroke="#000" stroke-width="1"/>
<rect x="733.42" y="132.40" width="3.5" height="5.30" fill="#fff" stroke="#000" stroke-width="0.9"/>
<rect x="738.49" y="132.10" width="4" height="1.40" fill="#000"/>
<rect x="743.82" y="133.80" width="4" height="5.30" fill="#000"/>
<line x1="751.15" y1="139.10" x2="751.15" y2="140.10" stroke="#000" stroke-width="1"/>
<rect x="749.40" y="135.40" width="3.5" height="3.50" fill="#fff" stroke="#000" stroke-width="0.9"/>
<line x1="756.47" y1="135.20" x2="756.47" y2="137.00" stroke="#000" stroke-width="1"/>
<rect x="754.72" y="126.30" width="3.5" height="8.70" fill="#fff" stroke="#000" stroke-width="0.9"/>
<line x1="761.80" y1="122.50" x2="761.80" y2="124.00" stroke="#000" stroke-width="1"/>
<rect x="760.05" y="123.95" width="3.5" height="2.20" fill="#fff" stroke="#000" stroke-width="0.9"/>
</g>
<g stroke="#000" stroke-width="2" stroke-linecap="butt">
<line x1="63" y1="271.3" x2="286" y2="273.1"/>
<line x1="345.5" y1="150.1" x2="558" y2="150.8"/>
<line x1="580.3" y1="101.1" x2="767" y2="100.9"/>
</g>
<g clip-path="url(#ip)" fill="none" stroke-width="1" stroke-linejoin="round">
<polyline points="209,363.9 215.6,393.9 223.4,423.8 231.2,447.2 239,465.5 248.1,477.2 259.8,485 271.6,488.9 282,490.2 292.4,489.4 305.4,486.3 318.4,481.1 335.6,465.5 346,448.5 356.5,418.6 373.4,363.9" stroke="#f4776f"/>
<polyline points="430.7,363.9 442.4,395.2 458,432.9 469.7,453.75 479.9,464.2 485.3,467.7 496.7,474 512,479.2 527.3,483 542.5,486.8 557.8,490.3 569.2,490.3 578.8,487.4 590.2,481.1 603.6,470.6 615,460.1 622.7,453.8 636.7,446.8 649.2,445.3 659.7,447.4 671.1,453.5 682.6,462.1 694,472.6 705.5,482.1 717,488.8 730.3,494 743.7,497.4 760.9,500.3" stroke="#f4776f"/>
<polyline points="184.3,363.9 189.5,393.9 196,429 202.6,444.6 213,464.2 224.7,477.2 239,489.7 250.7,492.8 259.8,492 270.3,489.4 280.7,488.4 289.8,486.3 297.6,485 305.4,478.5 313.75,470.7 321,459 330.4,443.3 336.9,426.4 342.1,399 348.6,363.9" stroke="#47b5a5"/>
<polyline points="411.1,363.9 419,383.4 425.5,406.9 431.5,434.2 439.8,449.8 452.8,462.9 468.4,472 474.8,475 487.2,479.2 498.6,481.7 510.1,484.5 523.4,487.4 536.8,492.2 544.4,493.5 554,493.5 559.7,490.6 565.4,487.4 573,478.2 580.7,468.7 590.2,460.1 603.6,450.6 617.6,442.4 627.2,442.4 638.7,445.5 649.2,449.7 659.7,461.1 671.1,473.5 682.6,483.1 694,488.25 705.5,494 717,496.5 730.3,499.7 743.7,501.2 760.9,500.7" stroke="#47b5a5"/>
</g>
<rect x="902.8" y="487.9" width="61.2" height="9.1" rx="1" fill="#f1453d"/>
<rect x="909" y="497.1" width="50.9" height="8.9" rx="1" fill="#11998a"/>
<line x1="926.5" y1="487.9" x2="926.5" y2="506" stroke="#ffffff" stroke-opacity="0.25"/>
<text x="905.25" y="495.30" font-size="6.8" font-weight="normal" fill="#fff" textLength="19.10" lengthAdjust="spacingAndGlyphs">Signal</text>
<text x="931.75" y="495.30" font-size="6.8" font-weight="normal" fill="#fff" textLength="29.30" lengthAdjust="spacingAndGlyphs">108.9307</text>
<text x="911.35" y="504.40" font-size="6.8" font-weight="normal" fill="#fff" textLength="12.20" lengthAdjust="spacingAndGlyphs">KST</text>
<text x="930.95" y="504.40" font-size="6.8" font-weight="normal" fill="#fff" textLength="26.40" lengthAdjust="spacingAndGlyphs">25.6165</text>
</svg></body></html>
